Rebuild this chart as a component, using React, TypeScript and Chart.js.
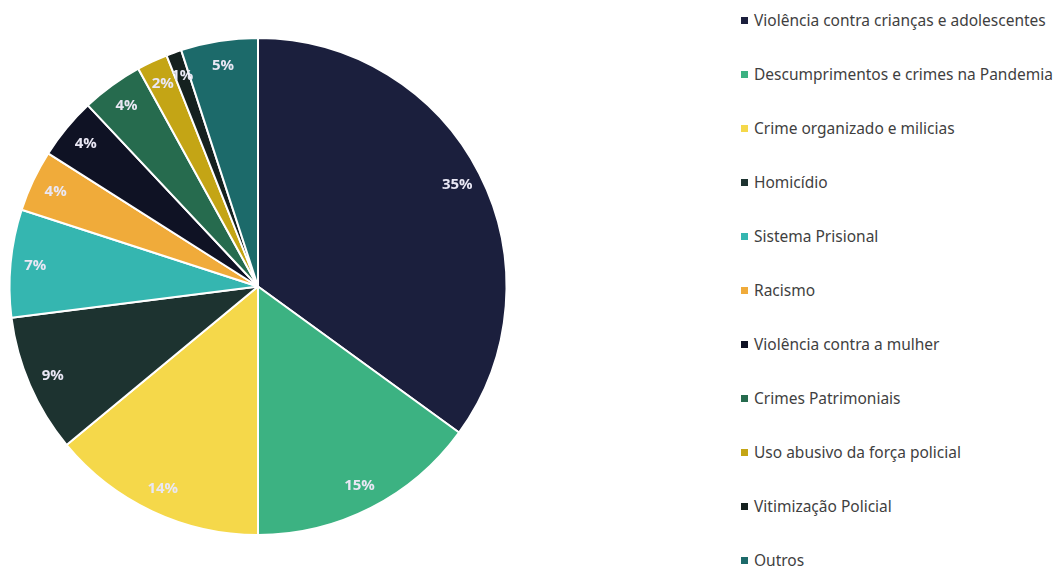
import React, { useEffect, useRef } from "react";
import { Chart, registerables } from "chart.js";

Chart.register(...registerables);

const categories = [
  "Violência contra crianças e adolescentes",
  "Descumprimentos e crimes na Pandemia",
  "Crime organizado e milicias",
  "Homicídio",
  "Sistema Prisional",
  "Racismo",
  "Violência contra a mulher",
  "Crimes Patrimoniais",
  "Uso abusivo da força policial",
  "Vitimização Policial",
  "Outros",
];
const values = [35, 15, 14, 9, 7, 4, 4, 4, 2, 1, 5];
const colors = [
  "#1b1f3d",
  "#3cb282",
  "#f5d84a",
  "#1d3330",
  "#35b6b0",
  "#f0ab3a",
  "#0f1224",
  "#266b4e",
  "#c4a515",
  "#15211f",
  "#1c6a6a",
];

const labelPlugin = {
  id: "pctLabels",
  afterDatasetsDraw(chart: any) {
    const ctx = chart.ctx;
    const meta = chart.getDatasetMeta(0);
    ctx.save();
    ctx.font = "bold 15px 'Open Sans', sans-serif";
    ctx.fillStyle = "#e9e7f4";
    ctx.textAlign = "center";
    ctx.textBaseline = "middle";
    meta.data.forEach((arc: any, i: number) => {
      const mid = (arc.startAngle + arc.endAngle) / 2;
      const r = arc.outerRadius * 0.9;
      const x = arc.x + Math.cos(mid) * r;
      const y = arc.y + Math.sin(mid) * r;
      ctx.fillText(values[i] + "%", x, y);
    });
    ctx.restore();
  },
};

export default function App() {
  const ref = useRef<HTMLCanvasElement>(null);
  useEffect(() => {
    if (!ref.current) return;
    const chart = new Chart(ref.current, {
      type: "pie",
      data: {
        labels: categories,
        datasets: [
          {
            data: values,
            backgroundColor: colors,
            borderColor: "#ffffff",
            borderWidth: 2,
          },
        ],
      },
      options: {
        animation: false,
        responsive: false,
        layout: { padding: { left: 8, right: 12, top: 37, bottom: 31 } },
        plugins: { legend: { display: false }, tooltip: { enabled: false } },
      },
      plugins: [labelPlugin],
    });
    return () => chart.destroy();
  }, []);

  return (
    <div style={{ position: "absolute", left: 0, top: 0, width: 1056, height: 567, background: "#fff" }}>
      <canvas ref={ref} width={520} height={567} style={{ position: "absolute", left: 0, top: 0 }} />
      {categories.map((c, i) => (
        <div
          key={c}
          style={{
            position: "absolute",
            left: 741,
            top: 20 + i * 54 - 10,
            height: 20,
            display: "flex",
            alignItems: "center",
            fontFamily: "'Noto Sans', sans-serif",
            fontSize: 15.5,
            color: "#3f3f3f",
            whiteSpace: "nowrap",
          }}
        >
          <span style={{ display: "inline-block", width: 7, height: 7, background: colors[i], marginRight: 6 }} />
          {c}
        </div>
      ))}
    </div>
  );
}
